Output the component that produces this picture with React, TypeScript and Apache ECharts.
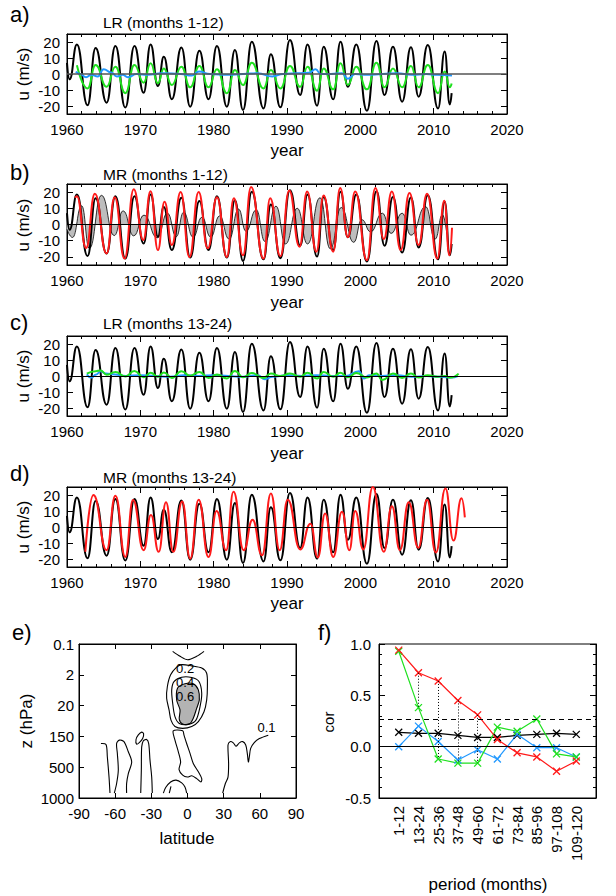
import React, { useEffect, useRef } from 'react';
import * as echarts from 'echarts';

const FONT = '"Liberation Sans", Arial, Helvetica, sans-serif';

// ---------- time series (extrema) [year, u m/s] ----------
const obs: number[][] = [
  [1960.0, 7], [1960.35, -3.3], [1961.35, 18.5], [1962.8, -19.5], [1963.9, 16.2], [1965.4, -17.9],
  [1966.6, 17.5], [1967.95, -21], [1969.2, 17.5], [1970.45, -11.7], [1971.4, 18.5], [1972.4, -7.5],
  [1973.2, 10.8], [1974.3, -15.8], [1975.6, 16.5], [1976.8, -20.4], [1978.05, 14.5], [1979.3, -15.8],
  [1980.45, 17.5], [1981.8, -20.4], [1982.9, 15], [1984.0, -22.5], [1985.2, 20.2], [1986.8, -21.5],
  [1987.8, 12.3], [1989.1, -20.8], [1990.4, 21.2], [1991.8, -13.1], [1992.8, 18.5], [1994.1, -19.8],
  [1995.0, 17], [1996.3, -15.8], [1997.3, 20.2], [1998.3, -7.9], [1999.45, 18.5], [2000.9, -22.9],
  [2002.2, 20.6], [2003.3, -13.1], [2004.45, 17], [2005.7, -17.3], [2006.9, 16.7], [2007.95, -14.2],
  [2009.2, 18.1], [2010.6, -21.5], [2011.5, 14], [2012.2, -19], [2012.45, -12],
];

const lrGreen12: number[][] = [
  [1961.35, 5.5], [1962.8, -9], [1963.9, 5.6], [1965.4, -8], [1966.6, 4.6], [1967.95, -12],
  [1969.2, 5.6], [1970.45, -5.4], [1971.4, 6.7], [1972.4, -5.8], [1973.2, 3.5], [1974.3, -6.9],
  [1975.6, 4.6], [1976.8, -8.3], [1978.05, 5], [1979.3, -8.3], [1980.45, 3], [1981.8, -12],
  [1982.9, 2.5], [1984.0, -6.9], [1985.2, 7], [1986.8, -9], [1987.8, 2.5], [1989.1, -9],
  [1990.4, 5], [1991.8, -8], [1992.8, 4.6], [1994.1, -10.4], [1995.0, 3.5], [1996.3, -9.6],
  [1997.3, 6.7], [1998.3, -6.9], [1999.45, 4.6], [2000.9, -9.6], [2002.2, 7], [2003.3, -8.3],
  [2004.45, 3.5], [2005.7, -8.3], [2006.9, 5], [2007.95, -8.3], [2009.2, 5.6], [2010.6, -12],
  [2011.5, 1.5], [2012.2, -8.3], [2012.45, -6],
];

const lrBlue12: number[][] = [
  [1961.2, 1.5], [1961.8, 0], [1962.6, -2], [1963.3, -0.5], [1964.2, -1.5], [1965.0, 3],
  [1966.0, 1], [1966.8, -1.5], [1967.6, -0.5], [1968.3, -2], [1969.5, 0], [1971.0, -0.5],
  [1973.0, 0.5], [1975.5, 0], [1977.0, -1], [1978.0, 1.5], [1979.5, 0], [1982.0, -0.5],
  [1984.0, 0], [1986.0, 0.5], [1988.0, -1.5], [1989.5, 0], [1991.5, 0.5], [1993.0, 0.8],
  [1993.9, 3], [1994.6, 0], [1996.0, 0], [1997.5, 0.5], [1998.3, -3], [1999.3, 0],
  [2001.0, -0.5], [2003.0, 0], [2005.0, 0.5], [2007.0, -0.5], [2009.0, 0], [2010.5, -0.5], [2012.5, -1],
];

const mrGray12: number[][] = [
  [1960.0, -3], [1960.75, -8], [1962.0, 11.5], [1963.05, -14.8], [1964.7, 18], [1966.45, -6.8],
  [1967.65, 8.4], [1969.1, -7], [1970.5, 5.8], [1972.3, -8.2], [1973.7, 7], [1974.9, -7.5],
  [1975.9, 7.5], [1977.2, -7.8], [1978.4, 4.5], [1979.6, -7.8], [1980.8, 5.3], [1982.1, -9],
  [1983.4, 9.5], [1984.4, -4.2], [1985.8, 9], [1987.0, -10.5], [1988.5, 11.3], [1989.8, -12],
  [1991.4, 10], [1992.8, -12], [1994.5, 16.5], [1995.9, -15], [1997.4, 10.5], [1999.1, -11],
  [2000.2, 3], [2001.4, -4.5], [2003.0, 7], [2004.2, -5.5], [2005.7, 7], [2006.9, -6.6],
  [2008.9, 11], [2010.2, -9], [2011.2, 6], [2011.8, -6],
];

const mrRed12: number[][] = [
  [1961.1, 16.5], [1961.35, 17.5], [1962.6, -14.5], [1963.8, 19], [1965.4, -17.9], [1966.5, 16.8],
  [1967.85, -21], [1969.1, 21.7], [1970.4, -9.5], [1971.4, 20.6], [1972.4, -15.8], [1973.3, 14.1],
  [1974.3, -12.6], [1975.5, 20], [1976.7, -20], [1977.95, 20], [1979.2, -14.7], [1980.45, 16.8],
  [1981.8, -20], [1982.75, 16.2], [1984.0, -19], [1985.1, 23.2], [1986.8, -21], [1987.7, 16.2],
  [1989.1, -19.6], [1990.3, 21], [1991.7, -13.7], [1992.75, 20.4], [1994.0, -16.8], [1995.0, 17.9],
  [1996.3, -16.8], [1997.25, 22.5], [1998.3, -7.8], [1999.3, 20.4], [2000.9, -22], [2002.05, 22.5],
  [2003.2, -9], [2004.3, 20.4], [2005.5, -15.8], [2006.7, 19.4], [2007.95, -12.6], [2009.1, 19],
  [2010.5, -21], [2011.45, 14.7], [2012.15, -19], [2012.5, -2],
];

const lrGreen24: number[][] = [
  [1962.7, 1.5], [1963.9, 3], [1964.6, 3.5], [1965.4, 0.8], [1966.6, 2.5], [1967.95, -0.3],
  [1969.2, 3.2], [1970.45, -0.8], [1971.4, 2], [1972.4, -0.5], [1973.2, 2.2], [1974.3, -1.2],
  [1975.6, 3], [1976.8, 0.2], [1978.05, 2.5], [1979.3, -1.2], [1980.45, 1], [1981.8, -1.5],
  [1982.9, 3.2], [1984.0, -0.8], [1985.2, 1.8], [1986.8, -1.2], [1987.8, 1.5], [1989.1, 0],
  [1990.4, 1.5], [1991.8, -0.5], [1992.8, 2], [1994.1, -1.5], [1995.0, 2.5], [1996.3, -0.5],
  [1997.3, 2], [1998.3, -0.8], [1999.45, 1.8], [2000.9, -1], [2002.2, 1.5], [2003.0, -2.5],
  [2004.45, 1.5], [2005.7, -1.2], [2006.9, 1.5], [2007.95, -1], [2009.2, 0.5], [2010.6, -0.5],
  [2011.5, 0], [2012.3, -1], [2013.4, 1.5],
];

const lrBlue24: number[][] = [
  [1962.7, 1], [1963.3, -1], [1964.0, 1], [1964.6, 3], [1965.3, 1.5], [1966.5, 1], [1968.0, 0],
  [1970.0, 0.5], [1972.0, 0], [1974.0, -0.5], [1976.0, 0.5], [1978.0, 0], [1980.0, 0.5],
  [1982.0, 0], [1984.0, -0.5], [1986.0, 0.5], [1987.0, -2], [1988.0, -0.5], [1990.0, 0.5],
  [1992.0, 0], [1994.0, 0.5], [1996.0, 0], [1998.0, 0], [1999.8, 3], [2000.5, -1.5],
  [2001.2, 0.5], [2003.0, 0], [2005.0, 0.5], [2007.0, -0.5], [2009.0, 0], [2011.0, -0.5],
  [2012.4, -1], [2013.3, 0],
];

const mrRed24: number[][] = [
  [1962.5, -15.5], [1963.6, 20], [1965.4, -14.5], [1966.6, 19.6], [1967.95, -18.7], [1969.0, 16.8],
  [1970.45, -14.5], [1971.45, 7.5], [1972.5, -15.5], [1973.5, 15.5], [1974.5, -15.5], [1975.7, 16],
  [1976.8, -19.8], [1977.95, 17], [1979.3, -18.7], [1980.4, 10], [1981.7, -14.5], [1982.7, 22],
  [1984.1, -14.5], [1985.3, 4.5], [1986.6, -17.7], [1987.8, 21], [1989.0, -14.5], [1990.1, 17],
  [1991.8, -14], [1993.2, 2], [1994.2, -19], [1995.2, 8.5], [1996.3, -18.7], [1997.5, 9.5],
  [1998.5, -14.5], [1999.3, 10], [2000.4, -14], [2001.7, 25], [2003.2, -15.5], [2004.3, 13],
  [2005.4, -14.5], [2006.6, 15.5], [2007.9, -13], [2009.1, 17], [2010.3, -16], [2011.6, 24],
  [2012.7, -8.5], [2013.8, 18], [2014.25, 6],
];

// ---------- panel f ----------
const periods = ['1-12', '13-24', '25-36', '37-48', '49-60', '61-72', '73-84', '85-96', '97-108', '109-120'];
const corRed = [0.94, 0.72, 0.64, 0.45, 0.31, 0.07, -0.06, -0.10, -0.24, -0.14];
const corGreen = [0.93, 0.38, -0.12, -0.16, -0.16, 0.19, 0.15, 0.27, -0.07, -0.10];
const corBlue = [0.00, 0.20, 0.05, -0.13, -0.03, -0.12, 0.12, -0.01, -0.01, -0.10];
const corBlack = [0.14, 0.13, 0.13, 0.11, 0.09, 0.09, 0.11, 0.12, 0.13, 0.12];
const sigLevel = 0.266;
const sigIdx = [1, 2, 3, 4];

// ---------- panel e (contours, [latitude, level index]) ----------
const pLevels = ['1000', '500', '150', '20', '2', '0.1'];
const cTop: number[][] = [[-12.3, 4.76], [-6.2, 4.6], [0.1, 4.49], [7.6, 4.6], [13.7, 4.76]];
const c02: number[][] = [
  [-9, 4.25], [-4.8, 4.33], [3.5, 4.29], [11.8, 4.22], [15.9, 4.05], [16.5, 3.62], [15.9, 3.18],
  [13.7, 2.8], [9, 2.48], [3.5, 2.32], [-4, 2.26], [-10.4, 2.32], [-13.7, 2.53], [-15.3, 2.86],
  [-17.3, 3.24], [-16.7, 3.62], [-14, 4.0],
];
const c04: number[][] = [
  [-11.2, 3.78], [-4.8, 3.92], [3.5, 3.91], [9.5, 3.78], [11.8, 3.4], [10.4, 2.97], [7, 2.53],
  [0.7, 2.39], [-6.8, 2.42], [-10.4, 2.64], [-12.3, 3.08], [-13.1, 3.51],
];
const c06: number[][] = [
  [-8.2, 3.57], [-2.1, 3.71], [4.8, 3.71], [9, 3.51], [9.8, 3.18], [7.6, 2.91], [4.8, 2.59],
  [2.1, 2.42], [-4, 2.4], [-6.8, 2.55], [-6.2, 2.86], [-9, 3.18],
];
const cA: number[][] = [[-71.8, 1.77], [-67.6, 1.74], [-66.5, 1.34], [-65.1, 0.68], [-64.3, 0.16]];
const cB: number[][] = [
  [-60.7, 0.16], [-58.8, 0.47], [-57.4, 0.9], [-58.2, 1.45], [-58.8, 1.77], [-56.5, 1.88], [-52.7, 1.83],
  [-49.1, 1.5], [-46.3, 1.17], [-49.1, 0.79], [-50.5, 0.47], [-50.5, 0.16],
];
const cLoop: number[][] = [[-42.2, 1.75], [-42.7, 1.9], [-40.8, 2.05], [-38, 2.14], [-36.4, 2.08], [-37.2, 1.93], [-40, 1.8]];
const cD: number[][] = [
  [-38.8, 0.16], [-38.3, 0.9], [-38, 1.66], [-36.6, 1.86], [-33.9, 1.9], [-32.2, 1.77], [-31.1, 1.23],
  [-29.7, 0.68], [-29.2, 0.16],
];
const cBump: number[][] = [[-20, 0.16], [-18.1, 0.34], [-14, 0.52], [-9.5, 0.58], [-4.8, 0.49], [-2.1, 0.36], [-0.7, 0.16]];
const cStub: number[][] = [[-15.1, 0.16], [-13.7, 0.38]];
const cColumn: number[][] = [
  [-11.8, 2.18], [-10.4, 1.88], [-7.6, 1.5], [-5.7, 1.17], [-7, 0.92], [-4, 0.74], [-0.1, 0.68],
  [3.5, 0.72], [7.6, 0.63], [11.2, 0.52], [11.8, 0.63], [9, 0.85], [4.8, 1.12], [2.1, 1.45],
  [-0.7, 1.77], [-2.9, 2.04], [-4, 2.18],
];
const cRight: number[][] = [
  [29.2, 0.16], [31.4, 0.47], [33.6, 0.68], [34.1, 1.12], [33.6, 1.72], [35.3, 1.83], [38, 1.79],
  [40.2, 1.68], [43, 1.79], [45.8, 1.83], [48.3, 1.72], [49.6, 1.45], [50.5, 1.17], [51.3, 1.34],
  [52.4, 1.61], [55.2, 1.79], [59.6, 1.93], [67, 2.04],
];
const contourLabels = [
  { t: '0.2', lat: -2, lev: 4.2 },
  { t: '0.4', lat: -2, lev: 3.74 },
  { t: '0.6', lat: -2, lev: 3.28 },
  { t: '0.1', lat: 65.5, lev: 2.3 },
];

// ---------- colours ----------
const C_BLACK = '#000000';
const C_RED = '#ff1a1a';
const C_GREEN = '#1fe01f';
const C_BLUE = '#2299ff';

const TIME_GRIDS = [
  { top: 34, height: 80 },
  { top: 184, height: 81 },
  { top: 336, height: 80 },
  { top: 487, height: 80 },
];

function tickLine() {
  return { lineStyle: { color: '#000', width: 1 } };
}

function buildOption() {
  const grid: any[] = TIME_GRIDS.map((g) => ({
    left: 67, top: g.top, width: 440, height: g.height, show: true, borderColor: '#000', borderWidth: 1,
  }));
  grid.push({ left: 79, top: 644, width: 217, height: 154, show: true, borderColor: '#000', borderWidth: 1 });
  grid.push({ left: 379, top: 644, width: 217, height: 154, show: true, borderColor: '#000', borderWidth: 1 });

  const xAxis: any[] = [];
  const yAxis: any[] = [];
  const lbl = { color: '#000', fontSize: 15, fontFamily: FONT };
  const plain = (v: number) => String(v);

  TIME_GRIDS.forEach((_, gi) => {
    const base = {
      gridIndex: gi, type: 'value', min: 1960, max: 2020, interval: 10,
      axisLine: { show: true, onZero: false, lineStyle: { color: '#000', width: 1 } },
      axisTick: { show: true, inside: true, length: 6, ...tickLine() },
      minorTick: { show: true, splitNumber: 5, length: 3, ...tickLine() },
      splitLine: { show: false },
    };
    xAxis.push({ ...base, position: 'bottom', axisLabel: { ...lbl, margin: 8, formatter: plain } });
    xAxis.push({ ...base, position: 'top', axisLabel: { show: false } });
    const ybase = {
      gridIndex: gi, type: 'value', min: -25, max: 25, splitNumber: 5,
      axisLine: { show: true, onZero: false, lineStyle: { color: '#000', width: 1 } },
      axisTick: { show: true, inside: true, length: 6, ...tickLine() },
      splitLine: { show: false },
    };
    yAxis.push({
      ...ybase, position: 'left',
      axisLabel: { ...lbl, margin: 7, formatter: (v: number) => (Math.abs(v % 10) < 1e-9 ? String(v) : '') },
    });
    yAxis.push({ ...ybase, position: 'right', axisLabel: { show: false } });
  });

  // panel e
  const eX = {
    gridIndex: 4, type: 'value', min: -90, max: 90, interval: 30,
    axisLine: { show: true, onZero: false, lineStyle: { color: '#000', width: 1 } },
    axisTick: { show: true, inside: true, length: 5, ...tickLine() },
    splitLine: { show: false },
  };
  xAxis.push({ ...eX, position: 'bottom', axisLabel: { ...lbl, margin: 8, formatter: plain } });
  xAxis.push({ ...eX, position: 'top', axisLabel: { show: false } });
  const eY = {
    gridIndex: 4, type: 'value', min: 0, max: 5, interval: 1,
    axisLine: { show: true, onZero: false, lineStyle: { color: '#000', width: 1 } },
    axisTick: { show: true, inside: true, length: 5, ...tickLine() },
    splitLine: { show: false },
  };
  yAxis.push({ ...eY, position: 'left', axisLabel: { ...lbl, margin: 5, formatter: (v: number) => pLevels[Math.round(v)] } });
  yAxis.push({ ...eY, position: 'right', axisLabel: { show: false } });

  // panel f
  xAxis.push({
    gridIndex: 5, type: 'category', data: ['', ...periods, ''], boundaryGap: false, position: 'bottom',
    axisLine: { show: true, onZero: false, lineStyle: { color: '#000', width: 1 } },
    axisTick: { show: false },
    axisLabel: { ...lbl, rotate: 90, interval: 0, margin: 8 },
    splitLine: { show: false },
  });
  const fY = {
    gridIndex: 5, type: 'value', min: -0.5, max: 1.0, interval: 0.5,
    axisLine: { show: true, onZero: false, lineStyle: { color: '#000', width: 1 } },
    axisTick: { show: true, inside: true, length: 6, ...tickLine() },
    minorTick: { show: true, splitNumber: 5, length: 3, ...tickLine() },
    splitLine: { show: false },
  };
  yAxis.push({ ...fY, position: 'left', axisLabel: { ...lbl, margin: 8, formatter: (v: number) => v.toFixed(1) } });
  yAxis.push({ ...fY, position: 'right', axisLabel: { show: false } });

  const zeroLine = (color: string, width: number) => ({
    silent: true, symbol: ['none', 'none'], label: { show: false },
    lineStyle: { color, width, type: 'solid' }, data: [{ yAxis: 0 }],
  });

  const ts = (data: number[][], gi: number, color: string, width: number, extra: any = {}) => ({
    type: 'line', xAxisIndex: 2 * gi, yAxisIndex: 2 * gi, data, showSymbol: false, symbol: 'none',
    smooth: 0.5, smoothMonotone: 'x', silent: true, lineStyle: { color, width }, ...extra,
  });

  const series: any[] = [];
  // a
  series.push(ts(obs, 0, C_BLACK, 2, { markLine: zeroLine('#555', 1.6) }));
  series.push(ts(lrGreen12, 0, C_GREEN, 2));
  series.push(ts(lrBlue12, 0, C_BLUE, 2));
  // b
  series.push(ts(mrGray12, 1, '#000', 0.8, { areaStyle: { color: '#bdbdbd', origin: 0, opacity: 1 } }));
  series.push(ts(obs, 1, C_BLACK, 2, { markLine: zeroLine('#000', 1) }));
  series.push(ts(mrRed12, 1, C_RED, 2));
  // c
  series.push(ts(obs, 2, C_BLACK, 2, { markLine: zeroLine('#000', 1) }));
  series.push(ts(lrBlue24, 2, C_BLUE, 2));
  series.push(ts(lrGreen24, 2, C_GREEN, 2));
  // d
  series.push(ts(obs, 3, C_BLACK, 2, { markLine: zeroLine('#000', 1) }));
  series.push(ts(mrRed24, 3, C_RED, 2));

  // e contours
  const contour = (pts: number[][], closed: boolean, fill?: string) => ({
    type: 'custom', coordinateSystem: 'cartesian2d', xAxisIndex: 8, yAxisIndex: 8, silent: true,
    data: [pts[0]],
    renderItem: (_p: any, api: any) => ({
      type: closed ? 'polygon' : 'polyline',
      shape: { points: pts.map((p) => api.coord(p)), smooth: 0.3 },
      style: { fill: fill || 'none', stroke: '#000', lineWidth: 1.1 },
    }),
  });
  series.push(contour(c06, true, '#b3b3b3'));
  series.push(contour(c04, true));
  series.push(contour(c02, true));
  series.push(contour(cTop, false));
  series.push(contour(cA, false));
  series.push(contour(cB, false));
  series.push(contour(cLoop, true));
  series.push(contour(cD, false));
  series.push(contour(cBump, false));
  series.push(contour(cStub, false));
  series.push(contour(cColumn, true));
  series.push(contour(cRight, false));
  series.push({
    type: 'custom', coordinateSystem: 'cartesian2d', xAxisIndex: 8, yAxisIndex: 8, silent: true,
    data: contourLabels.map((l, i) => [l.lat, l.lev, i]),
    renderItem: (_p: any, api: any) => {
      const pt = api.coord([api.value(0), api.value(1)]);
      const t = contourLabels[api.value(2)].t;
      return {
        type: 'text', x: pt[0], y: pt[1],
        style: {
          text: t, fill: '#000', fontSize: 13, lineHeight: 13, fontFamily: FONT,
          align: 'center', verticalAlign: 'middle', textAlign: 'center', textVerticalAlign: 'middle',
        },
      };
    },
  });

  // f
  const crossSym = 'path://M0,0L10,10M10,0L0,10';
  const cor = (vals: number[], color: string, extra: any = {}) => ({
    type: 'line', xAxisIndex: 10, yAxisIndex: 10, silent: true,
    data: vals.map((v, i) => [periods[i], v]),
    symbol: crossSym, symbolSize: 7, showSymbol: true,
    lineStyle: { color, width: 1.2 },
    itemStyle: { color, borderColor: color, borderWidth: 1.3 },
    ...extra,
  });
  series.push(cor(corBlack, C_BLACK, {
    markLine: {
      silent: true, symbol: ['none', 'none'], label: { show: false },
      data: [
        { yAxis: 0, lineStyle: { color: '#000', width: 1, type: 'solid' } },
        { yAxis: sigLevel, lineStyle: { color: '#000', width: 1, type: [5, 4] } },
      ],
    },
  }));
  series.push(cor(corBlue, C_BLUE));
  series.push(cor(corGreen, C_GREEN, {
    markLine: {
      silent: true, symbol: ['none', 'none'], label: { show: false },
      lineStyle: { color: '#000', width: 1, type: [1, 2] },
      data: sigIdx.map((i) => [{ coord: [periods[i], corRed[i]] }, { coord: [periods[i], corGreen[i]] }]),
    },
  }));
  series.push(cor(corRed, C_RED));

  // texts
  const txt = (text: string, x: number, y: number, size: number, align = 'left', rot = 0) => ({
    type: 'text', x, y, rotation: rot, silent: true,
    style: {
      text, fill: '#000', fontSize: size, fontFamily: FONT,
      align, verticalAlign: 'middle', textAlign: align, textVerticalAlign: 'middle',
    },
  });
  const R = Math.PI / 2;
  const graphic: any[] = [
    txt('a)', 10, 14, 22), txt('b)', 10, 172, 22), txt('c)', 10, 322, 22), txt('d)', 10, 473, 22),
    txt('e)', 12, 632, 22), txt('f)', 318, 632, 22),
    txt('LR (months 1-12)', 103, 22, 15.5), txt('MR (months 1-12)', 103, 174, 15.5),
    txt('LR (months 13-24)', 103, 323, 15.5), txt('MR (months 13-24)', 103, 477, 15.5),
    txt('u (m/s)', 23, 74, 17, 'center', R), txt('u (m/s)', 23, 225, 17, 'center', R),
    txt('u (m/s)', 23, 376, 17, 'center', R), txt('u (m/s)', 23, 527, 17, 'center', R),
    txt('year', 287, 150, 17, 'center'), txt('year', 287, 302, 17, 'center'),
    txt('year', 287, 453, 17, 'center'), txt('year', 287, 603, 17, 'center'),
    txt('z (hPa)', 26, 721, 17, 'center', R), txt('latitude', 187, 838, 17, 'center'),
    txt('cor', 328, 722, 15, 'center', R), txt('period (months)', 488, 884, 17, 'center'),
  ];

  return {
    animation: false,
    backgroundColor: '#ffffff',
    textStyle: { fontFamily: FONT },
    grid, xAxis, yAxis, series, graphic,
  };
}

export default function App() {
  const ref = useRef<HTMLDivElement>(null);
  useEffect(() => {
    document.body.style.margin = '0';
    if (!ref.current) return;
    const chart = echarts.init(ref.current, undefined, { renderer: 'svg' });
    chart.setOption(buildOption() as any);
    return () => chart.dispose();
  }, []);
  return <div ref={ref} style={{ position: 'absolute', left: 0, top: 0, width: 616, height: 896, background: '#fff' }} />;
}
